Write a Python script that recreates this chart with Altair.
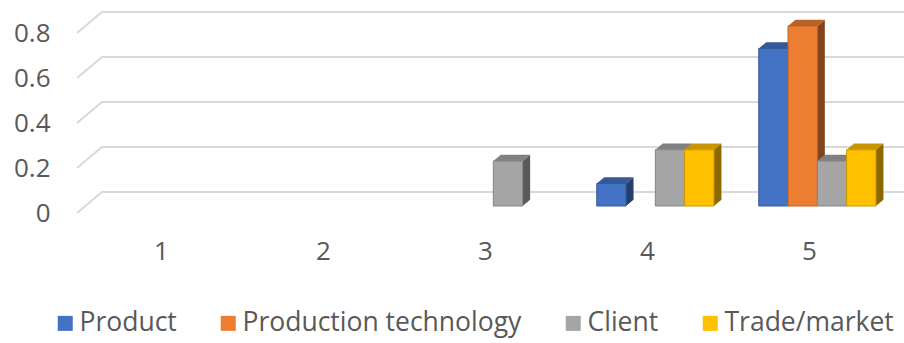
import altair as alt
import pandas as pd

# Share of each innovation type per rating level
categories = [1, 2, 3, 4, 5]
series = ["Product", "Production technology", "Client", "Trade/market"]
product = [0, 0, 0, 0.1, 0.7]
production_technology = [0, 0, 0, 0, 0.8]
client = [0, 0, 0.2, 0.25, 0.2]
trade_market = [0, 0, 0, 0.25, 0.25]
y_ticks = [0, 0.2, 0.4, 0.6, 0.8]

front_colors = ["#4472C4", "#ED7D31", "#A5A5A5", "#FFC000"]


def shade(hex_color, k):
    r, g, b = (int(hex_color[i:i + 2], 16) for i in (1, 3, 5))
    return "#{:02x}{:02x}{:02x}".format(int(r * k), int(g * k), int(b * k))


# Plot geometry (data units) for the oblique 3-D projection
W, H = 827, 180
X_DOMAIN = [0.4815, 0.4815 + W / 162.0]
Y_DOMAIN = [0, 0.8]
PX_X = W / (X_DOMAIN[1] - X_DOMAIN[0])
PX_Y = H / (Y_DOMAIN[1] - Y_DOMAIN[0])
DX = 25 / PX_X          # full depth, horizontal shift
DY = 21 / PX_Y          # full depth, vertical shift
FRONT = 1 / 3           # depth of the bars' front faces
DEPTH = 0.3             # bar thickness as a fraction of the full depth
BW = 29.3 / PX_X        # bar width

values = [product, production_technology, client, trade_market]

front_rows, side_rows, top_rows = [], [], []
for k, (name, vals, col) in enumerate(zip(series, values, front_colors)):
    for cat, v in zip(categories, vals):
        if v <= 0:
            continue
        xl = cat + DX * FRONT + (k - 2) * BW
        xr = xl + BW
        y0 = DY * FRONT
        y1 = y0 + v
        dxb, dyb = DX * DEPTH, DY * DEPTH
        bid = f"{name}-{cat}"
        front_rows.append(dict(series=name, cat=cat, x=xl, x2=xr, y=y0, y2=y1,
                               edge=shade(col, 0.8)))
        side_rows += [
            dict(id=bid, x=xr, y=y1, y2=y0, fill=shade(col, 0.55)),
            dict(id=bid, x=xr + dxb, y=y1 + dyb, y2=y0 + dyb, fill=shade(col, 0.55)),
        ]
        top_rows += [
            dict(id=bid, y=y1, x=xl, x2=xr, fill=shade(col, 0.78)),
            dict(id=bid, y=y1 + dyb, x=xl + dxb, x2=xr + dxb, fill=shade(col, 0.78)),
        ]

grid_rows = []
for t in y_ticks:
    grid_rows += [
        dict(tick=t, seq=0, x=X_DOMAIN[0], y=t),
        dict(tick=t, seq=1, x=X_DOMAIN[0] + DX, y=t + DY),
        dict(tick=t, seq=2, x=X_DOMAIN[1], y=t + DY),
    ]

FONT = "Open Sans"
TEXT = "#595959"
xs = alt.Scale(domain=X_DOMAIN, nice=False, zero=False)
ys = alt.Scale(domain=Y_DOMAIN, nice=False, zero=False)
x_axis = alt.Axis(values=categories, format="d", domain=False, ticks=False,
                  grid=False, labelFontSize=26, labelFont=FONT, labelColor=TEXT,
                  labelPadding=25, labelFlush=False, title=None)
y_axis = alt.Axis(values=y_ticks, format="~g", domain=False, ticks=False,
                  grid=False, labelFontSize=26, labelFont=FONT, labelColor=TEXT,
                  labelPadding=27, title=None)

grid = alt.Chart(pd.DataFrame(grid_rows)).mark_line(
    color="#d9d9d9", strokeWidth=2
).encode(
    x=alt.X("x:Q", scale=xs, axis=x_axis),
    y=alt.Y("y:Q", scale=ys, axis=y_axis),
    detail="tick:N",
    order="seq:Q",
)

sides = alt.Chart(pd.DataFrame(side_rows)).mark_area(orient="vertical").encode(
    x=alt.X("x:Q", scale=xs, axis=x_axis),
    y=alt.Y("y:Q", scale=ys, axis=y_axis, stack=None),
    y2="y2:Q",
    fill=alt.Fill("fill:N", scale=None),
    detail="id:N",
)

tops = alt.Chart(pd.DataFrame(top_rows)).mark_area(orient="horizontal").encode(
    y=alt.Y("y:Q", scale=ys, axis=y_axis),
    x=alt.X("x:Q", scale=xs, axis=x_axis, stack=None),
    x2="x2:Q",
    fill=alt.Fill("fill:N", scale=None),
    detail="id:N",
)

fronts = alt.Chart(pd.DataFrame(front_rows)).mark_rect(strokeWidth=1).encode(
    x=alt.X("x:Q", scale=xs, axis=x_axis),
    x2="x2:Q",
    y=alt.Y("y:Q", scale=ys, axis=y_axis),
    y2="y2:Q",
    color=alt.Color("series:N", scale=alt.Scale(domain=series, range=front_colors),
                    legend=alt.Legend(orient="none", direction="horizontal",
                                      legendX=-25, legendY=277, title=None,
                                      symbolType="square", symbolSize=225,
                                      symbolStrokeWidth=0, labelFontSize=26.5,
                                      labelFont=FONT, labelColor=TEXT,
                                      labelOffset=1, labelLimit=0,
                                      columnPadding=38)),
    stroke=alt.Stroke("edge:N", scale=None),
)

chart = alt.layer(grid, sides, tops, fronts).resolve_scale(
    color="independent"
).properties(
    width=W, height=H, background="white",
    autosize=alt.AutoSizeParams(type="none"),
    padding={"left": 77, "top": 33, "right": 0, "bottom": 130},
).configure_view(strokeWidth=0)

chart.save("out.html", embed_options={"renderer": "svg", "actions": False})
